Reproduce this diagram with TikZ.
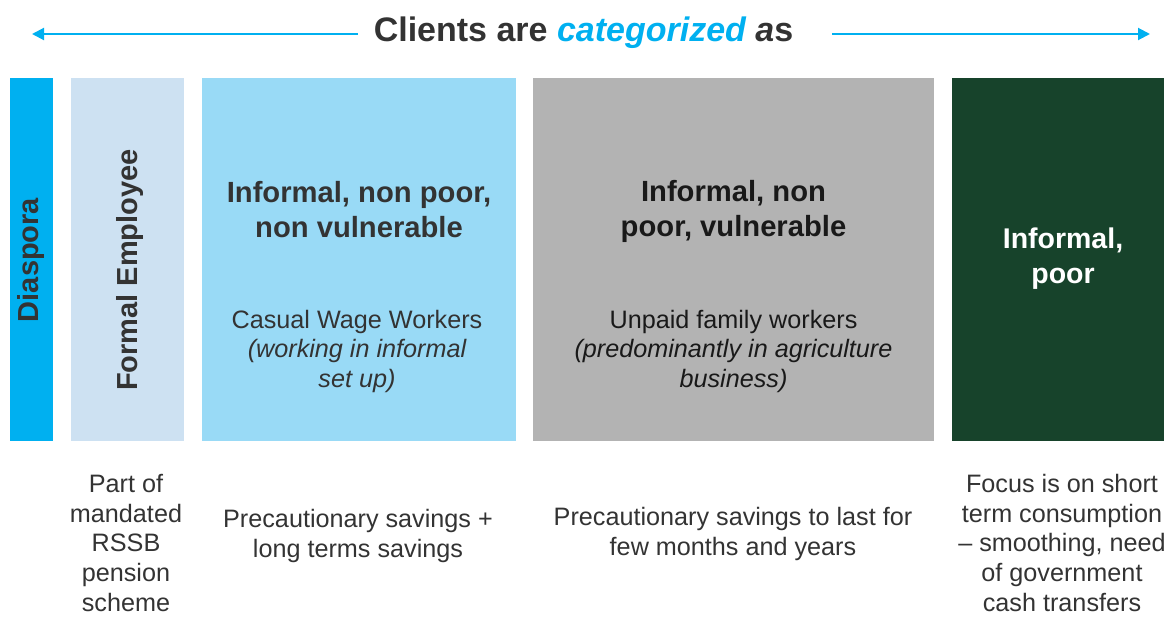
\documentclass[tikz,border=0pt]{standalone}
\usepackage{fontspec}
\setmainfont{Liberation Sans}
\usetikzlibrary{arrows.meta}
\definecolor{skyA}{HTML}{00B0F0}
\definecolor{paleA}{HTML}{CDE1F2}
\definecolor{lightA}{HTML}{99DAF6}
\definecolor{greyA}{HTML}{B3B3B3}
\definecolor{forestA}{HTML}{17432B}
\definecolor{inkA}{HTML}{333333}
\begin{document}
\begin{tikzpicture}[x=1pt,y=-1pt,
  catbox/.style={draw=none, inner sep=0pt, anchor=north west},
  sidelabel/.style={rotate=90, text=inkA, font=\bfseries\fontsize{29}{34}\selectfont},
  headtext/.style={align=center, anchor=base, inner sep=0pt, font=\bfseries\fontsize{29.2}{34.5}\selectfont},
  bodytext/.style={align=center, anchor=base, inner sep=0pt, font=\fontsize{25.2}{29.5}\selectfont},
  notetext/.style={align=center, anchor=base, inner sep=0pt, text=inkA, font=\fontsize{25.2}{29.6}\selectfont},
  spanarrow/.style={draw=skyA, line width=2pt, -{Triangle[length=12pt,width=12pt]}}]
\useasboundingbox (0,0) rectangle (1176,618);

% title and the two span arrows
\node[anchor=base, inner sep=0pt, text=inkA, font=\bfseries\fontsize{34}{40}\selectfont]
  (title) at (583.5,42) {Clients are {\color{skyA}\itshape categorized} {\itshape a}s};
\coordinate (lstart) at (358,34);
\coordinate (lend) at (32,34);
\coordinate (rstart) at (832,34);
\coordinate (rend) at (1150,34);
\draw[spanarrow] (lstart) -- (lend);
\draw[spanarrow] (rstart) -- (rend);

% category columns
\node[catbox, fill=skyA, minimum width=43pt, minimum height=363pt] (dias) at (10,78) {};
\node[catbox, fill=paleA, minimum width=113pt, minimum height=363pt] (formal) at (71,78) {};
\node[catbox, fill=lightA, minimum width=314pt, minimum height=363pt] (nonvul) at (202,78) {};
\node[catbox, fill=greyA, minimum width=401pt, minimum height=363pt] (vul) at (533,78) {};
\node[catbox, fill=forestA, minimum width=212pt, minimum height=363pt] (poor) at (952,78) {};

% rotated column names
\node[sidelabel] (diasname) at (31.5,260) {Diaspora};
\node[sidelabel] (formalname) at (130,270) {Formal Employee};

% column headings (anchored at the baseline of their last line)
\node[headtext, text=inkA] (nonvulhead) at (359,237) {Informal, non poor,\\non vulnerable};
\node[headtext, text=black!90] (vulhead) at (733.5,236) {Informal, non\\poor, vulnerable};
\node[headtext, text=white, font=\bfseries\fontsize{28.5}{35}\selectfont] (poorhead) at (1063,283) {Informal,\\poor};

% column descriptions
\node[bodytext, text=inkA] (nonvulbody) at (357,387) {Casual Wage Workers\\{\itshape (working in informal}\\{\itshape set up)}};
\node[bodytext, text=black!90] (vulbody) at (733.5,387) {Unpaid family workers\\{\itshape (predominantly in agriculture}\\{\itshape business)}};

% notes below the columns
\node[notetext] (formalnote) at (126,611) {Part of\\mandated\\RSSB\\pension\\scheme};
\node[notetext] (nonvulnote) at (358,557) {Precautionary savings +\\long terms savings};
\node[notetext] (vulnote) at (733,555) {Precautionary savings to last for\\few months and years};
\node[notetext] (poornote) at (1062,611) {Focus is on short\\term consumption\\-- smoothing, need\\of government\\cash transfers};
\end{tikzpicture}
\end{document}
